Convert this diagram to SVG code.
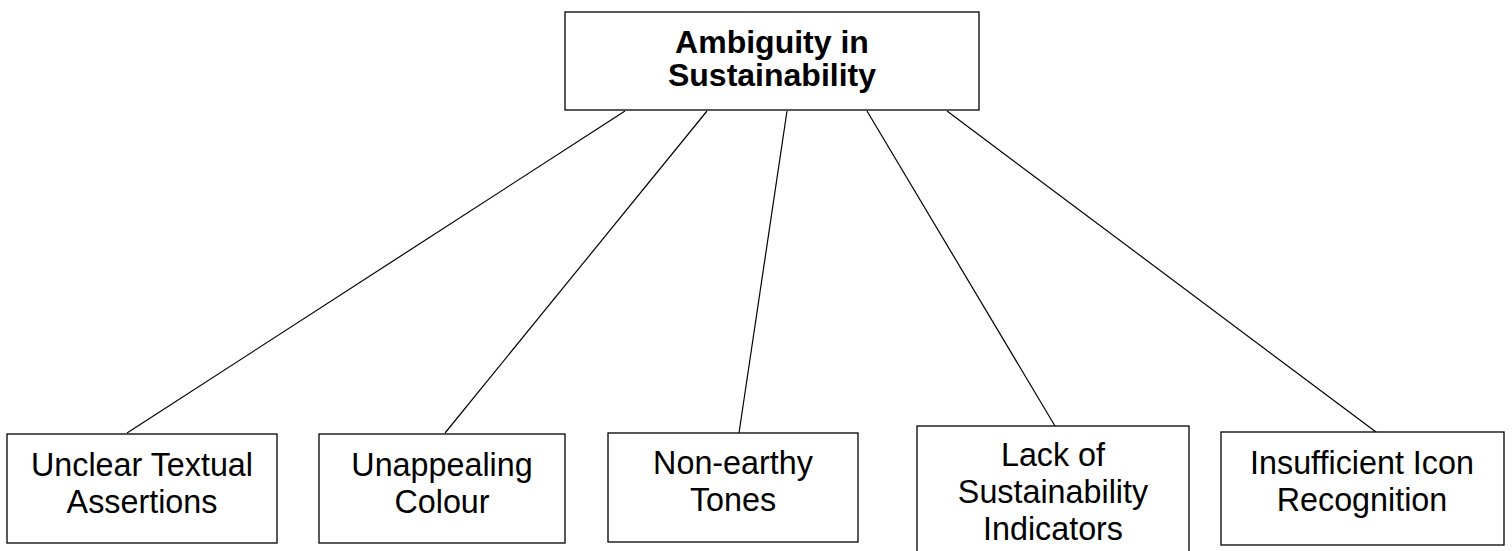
<svg xmlns="http://www.w3.org/2000/svg" width="1512" height="551" viewBox="0 0 1512 551">
  <style>
    .box { fill: #ffffff; stroke: #000000; stroke-width: 1.3; }
    .edge { stroke: #000000; stroke-width: 1.2; fill: none; }
    .label { font-family: "Liberation Sans", Arial, sans-serif; font-size: 32.3px; fill: #000000; text-anchor: middle; }
    .title { font-family: "Liberation Sans", Arial, sans-serif; font-size: 32px; font-weight: bold; fill: #000000; text-anchor: middle; }
  </style>
  <rect width="1512" height="551" fill="#ffffff"/>

  <!-- connectors from the root to each cause -->
  <g id="connectors">
    <line class="edge" x1="625" y1="111" x2="127" y2="433"/>
    <line class="edge" x1="707" y1="111" x2="445" y2="433"/>
    <line class="edge" x1="787" y1="111" x2="739" y2="433"/>
    <line class="edge" x1="867" y1="111" x2="1055" y2="426"/>
    <line class="edge" x1="947" y1="111" x2="1376" y2="432"/>
  </g>

  <g id="root">
    <rect class="box" x="565" y="12" width="414" height="98"/>
    <text class="title" x="772" y="53">Ambiguity in</text>
    <text class="title" x="772" y="86">Sustainability</text>
  </g>

  <g id="unclear-textual">
    <rect class="box" x="7" y="434" width="270" height="109"/>
    <text class="label" x="142" y="476">Unclear Textual</text>
    <text class="label" x="142" y="513">Assertions</text>
  </g>

  <g id="unappealing-colour">
    <rect class="box" x="319" y="434" width="246" height="109"/>
    <text class="label" x="442" y="476">Unappealing</text>
    <text class="label" x="442" y="513">Colour</text>
  </g>

  <g id="non-earthy">
    <rect class="box" x="608" y="433" width="250" height="109"/>
    <text class="label" x="733" y="474">Non-earthy</text>
    <text class="label" x="733" y="511">Tones</text>
  </g>

  <g id="lack-indicators">
    <rect class="box" x="917" y="426" width="272" height="135"/>
    <text class="label" x="1053" y="466">Lack of</text>
    <text class="label" x="1053" y="503">Sustainability</text>
    <text class="label" x="1053" y="540">Indicators</text>
  </g>

  <g id="icon-recognition">
    <rect class="box" x="1221" y="432" width="283" height="113"/>
    <text class="label" x="1362" y="474">Insufficient Icon</text>
    <text class="label" x="1362" y="511">Recognition</text>
  </g>
</svg>
